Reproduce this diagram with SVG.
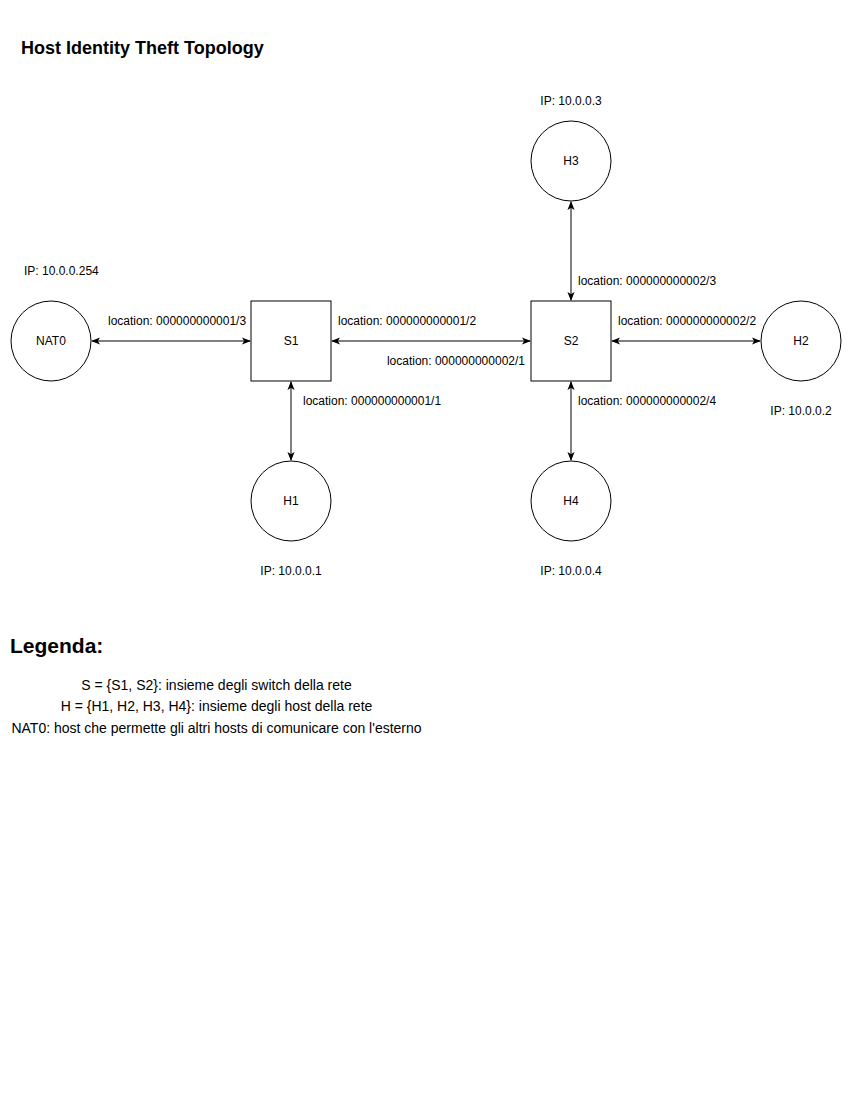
<svg xmlns="http://www.w3.org/2000/svg" width="852" height="1102" viewBox="0 0 852 1102">
<style>
text{font-family:"Liberation Sans",Arial,sans-serif;fill:#000}
.lbl{font-size:12px}
.c{text-anchor:middle}
.leg{font-size:14px;text-anchor:middle}
.node{fill:#fff;stroke:#000;stroke-width:1}
.edge{stroke:#000;stroke-width:1;fill:none;marker-start:url(#a);marker-end:url(#a)}
</style>
<defs>
<marker id="a" viewBox="0 0 10 10" refX="9" refY="5" markerWidth="9" markerHeight="9" markerUnits="userSpaceOnUse" orient="auto-start-reverse">
<path d="M0,1 L10,5 L0,9 L2.5,5 Z" fill="#000"/>
</marker>
</defs>
<rect width="852" height="1102" fill="#fff"/>
<text x="21" y="54" style="font-size:18px;font-weight:bold">Host Identity Theft Topology</text>
<g id="connectors">
<line class="edge" x1="92" y1="341" x2="250" y2="341"/>
<line class="edge" x1="332" y1="341" x2="530" y2="341"/>
<line class="edge" x1="612" y1="341" x2="760" y2="341"/>
<line class="edge" x1="291" y1="382" x2="291" y2="460"/>
<line class="edge" x1="571" y1="202" x2="571" y2="300"/>
<line class="edge" x1="571" y1="382" x2="571" y2="460"/>
<text class="lbl" x="108" y="325">location: 000000000001/3</text>
<text class="lbl" x="338" y="325">location: 000000000001/2</text>
<text class="lbl" x="525" y="365" text-anchor="end">location: 000000000002/1</text>
<text class="lbl" x="618" y="325">location: 000000000002/2</text>
<text class="lbl" x="578" y="285">location: 000000000002/3</text>
<text class="lbl" x="303" y="405">location: 000000000001/1</text>
<text class="lbl" x="578" y="405">location: 000000000002/4</text>
</g>
<g id="NAT0">
<circle class="node" cx="51" cy="341" r="40"/>
<text class="lbl c" x="51" y="345">NAT0</text>
<text class="lbl" x="24" y="275">IP: 10.0.0.254</text>
</g>
<g id="S1">
<rect class="node" x="251" y="301" width="80" height="80"/>
<text class="lbl c" x="291" y="345">S1</text>
</g>
<g id="S2">
<rect class="node" x="531" y="301" width="80" height="80"/>
<text class="lbl c" x="571" y="345">S2</text>
</g>
<g id="H2">
<circle class="node" cx="801" cy="341" r="40"/>
<text class="lbl c" x="801" y="345">H2</text>
<text class="lbl c" x="801" y="415">IP: 10.0.0.2</text>
</g>
<g id="H3">
<circle class="node" cx="571" cy="161" r="40"/>
<text class="lbl c" x="571" y="165">H3</text>
<text class="lbl c" x="571" y="105">IP: 10.0.0.3</text>
</g>
<g id="H1">
<circle class="node" cx="291" cy="501" r="40"/>
<text class="lbl c" x="291" y="505">H1</text>
<text class="lbl c" x="291" y="575">IP: 10.0.0.1</text>
</g>
<g id="H4">
<circle class="node" cx="571" cy="501" r="40"/>
<text class="lbl c" x="571" y="505">H4</text>
<text class="lbl c" x="571" y="575">IP: 10.0.0.4</text>
</g>
<g id="legend">
<text x="10" y="653" style="font-size:21px;font-weight:bold">Legenda:</text>
<text class="leg" x="216.5" y="690">S = {S1, S2}: insieme degli switch della rete</text>
<text class="leg" x="216.5" y="711">H = {H1, H2, H3, H4}: insieme degli host della rete</text>
<text class="leg" x="216.5" y="733">NAT0: host che permette gli altri hosts di comunicare con l'esterno</text>
</g>
</svg>
